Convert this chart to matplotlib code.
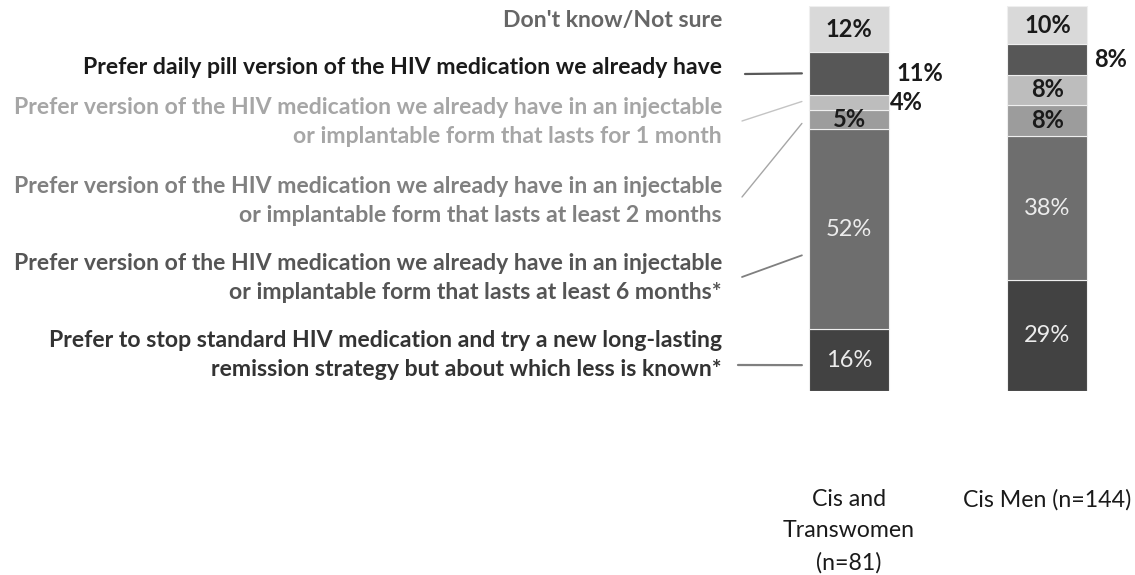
import matplotlib

matplotlib.use("Agg")
import matplotlib.pyplot as plt
import numpy as np

plt.rcParams["font.family"] = ["Lato", "DejaVu Sans"]

# stack order, bottom to top
categories = [
    "Prefer to stop standard HIV medication and try a new long-lasting\nremission strategy but about which less is known*",
    "Prefer version of the HIV medication we already have in an injectable\nor implantable form that lasts at least 6 months*",
    "Prefer version of the HIV medication we already have in an injectable\nor implantable form that lasts at least 2 months",
    "Prefer version of the HIV medication we already have in an injectable\nor implantable form that lasts for 1 month",
    "Prefer daily pill version of the HIV medication we already have",
    "Don't know/Not sure",
]
groups = ["Cis and\nTranswomen\n(n=81)", "Cis Men (n=144)"]
trans_women = [16, 52, 5, 4, 11, 12]
cis_men = [29, 38, 8, 8, 8, 10]

seg_colors = ["#424242", "#6e6e6e", "#9c9c9c", "#bdbdbd", "#575757", "#d9d9d9"]
text_colors = ["#333333", "#555555", "#808080", "#a6a6a6", "#1a1a1a", "#666666"]
line_colors = ["#7f7f7f", "#7f7f7f", "#a6a6a6", "#c4c4c4", "#595959", None]
line_widths = [1.6, 1.3, 1.0, 1.0, 1.6, 0]
# where on each segment the leader line lands (fraction of segment height)
anchor_frac = [0.42, 0.37, 0.3, 0.55, 0.5, None]
# label text centre (px from top) and leader start (px from left, px from top)
label_y = [355, 278, 201, 122, 68, 21]
leader_start = [(738, 365), (742, 277), (742, 197), (742, 121), (745, 74), None]
value_light = [True, True, False, False, False, False]
value_outside = [[False, False, False, True, True, False],
                 [False, False, False, False, True, False]]
outside_pad = [[0, 0, 0, 1, 7, 0], [0, 0, 0, 0, 7, 0]]

W, H = 1135, 575
fig = plt.figure(figsize=(W / 100, H / 100), dpi=100)
ax = fig.add_axes([750 / W, 184 / H, 385 / W, 385 / H])

x = np.arange(len(groups))
bar_w = 0.403
data = np.array([trans_women, cis_men], dtype=float)
shares = data / data.sum(axis=1, keepdims=True) * 100

bottoms = np.zeros(len(groups))
seg_bottom = np.zeros_like(shares)
for k in range(len(categories)):
    seg_bottom[:, k] = bottoms
    ax.bar(x, shares[:, k], bar_w, bottom=bottoms, color=seg_colors[k],
           edgecolor="#efefef", linewidth=0.8)
    for g in range(len(groups)):
        yc = bottoms[g] + shares[g, k] / 2
        label = f"{data[g, k]:.0f}%"
        if value_outside[g][k]:
            ax.annotate(label, xy=(x[g] + bar_w / 2, yc), xytext=(outside_pad[g][k], 0),
                        textcoords="offset pixels", ha="left", va="center",
                        fontsize=17, fontweight="bold", color="#1a1a1a")
        elif value_light[k]:
            ax.text(x[g], yc, label, ha="center", va="center", fontsize=17,
                    color="#ececec")
        else:
            ax.text(x[g], yc, label, ha="center", va="center", fontsize=17,
                    fontweight="bold", color="#1a1a1a")
    bottoms = bottoms + shares[:, k]

ax.set_xlim(-0.499, 1.441)
ax.set_ylim(0, 100)
ax.axis("off")

# left-hand labels with leader lines to the first bar
for k, name in enumerate(categories):
    fig.text(722 / W, 1 - label_y[k] / H, name, ha="right", va="center",
             fontsize=16.6, fontweight="bold", color=text_colors[k],
             linespacing=1.47)
    if leader_start[k] is None:
        continue
    y_end = seg_bottom[0, k] + shares[0, k] * anchor_frac[k]
    sx, sy = leader_start[k]
    ax.annotate("", xy=(-bar_w / 2 - 0.036, y_end), xycoords="data",
                xytext=(sx, H - sy), textcoords="figure pixels",
                arrowprops=dict(arrowstyle="-", color=line_colors[k],
                                lw=line_widths[k], shrinkA=0, shrinkB=0))

for g, name in enumerate(groups):
    ax.annotate(name, xy=(x[g], 0), xytext=(0, -98), textcoords="offset pixels",
                ha="center", va="top", fontsize=16.7, color="#1a1a1a",
                linespacing=1.6)

fig.savefig("out.png", dpi=100)
